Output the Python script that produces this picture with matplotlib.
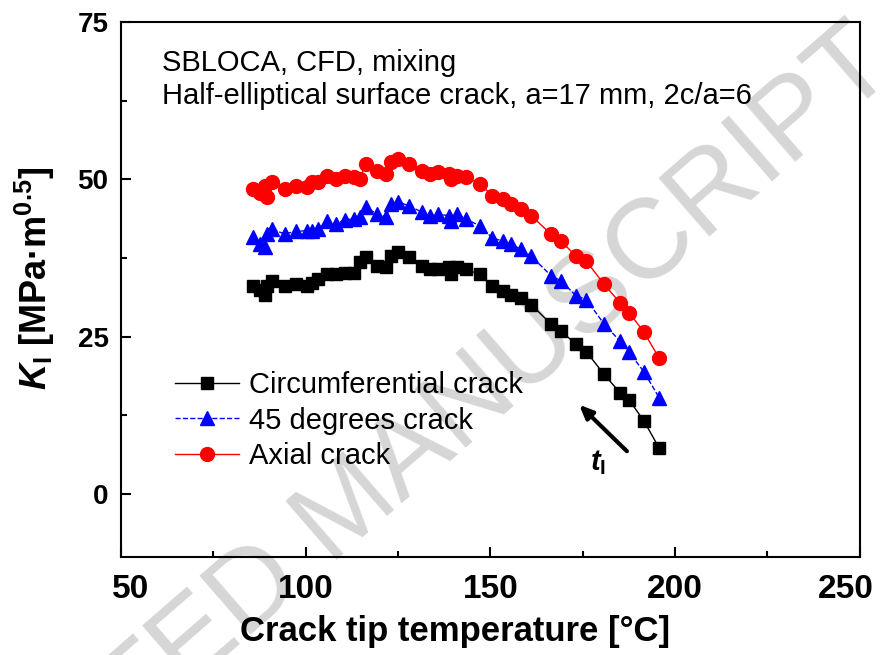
import numpy as np
import matplotlib
matplotlib.use('Agg')
import matplotlib.pyplot as plt
import matplotlib.transforms as mtransforms

# crack tip temperature [C]
temp = [85.8, 87.6, 89.0, 89.4, 90.8, 94.4, 97.3, 100.3, 101.6, 103.4,
        105.8, 108.2, 110.6, 113.2, 114.7, 116.3, 119.2, 121.8, 123.0, 125.0,
        128.0, 131.4, 133.6, 135.9, 138.8, 139.2, 141.0, 143.4, 147.2, 150.5,
        153.3, 155.7, 158.2, 161.1, 166.4, 169.1, 173.2, 176.0, 180.8, 185.1,
        187.6, 191.6, 195.7]
k_circ = [33.1, 32.5, 31.7, 33.0, 33.9, 33.1, 33.3, 33.1, 33.6, 34.1,
          34.9, 34.9, 35.2, 35.2, 36.8, 37.6, 36.3, 36.0, 37.8, 38.4,
          37.6, 36.3, 35.7, 35.7, 36.0, 34.9, 36.0, 35.7, 34.9, 33.1,
          32.3, 31.7, 31.2, 30.1, 27.0, 25.9, 23.8, 22.6, 19.0, 16.1,
          14.9, 11.6, 7.3]
k_45 = [40.8, 39.7, 39.2, 41.3, 42.1, 41.3, 41.8, 41.8, 41.8, 42.1,
        43.4, 42.9, 43.6, 43.7, 44.0, 45.6, 44.5, 44.0, 46.1, 46.4,
        45.8, 44.8, 44.2, 44.5, 44.2, 43.4, 44.5, 43.7, 42.6, 40.7,
        40.2, 39.7, 38.9, 37.8, 34.7, 33.9, 31.5, 30.9, 27.0, 24.3,
        22.5, 19.4, 15.3]
k_axial = [48.5, 47.9, 49.0, 47.2, 49.6, 48.5, 49.0, 48.8, 49.6, 49.6,
           50.6, 50.1, 50.5, 50.3, 50.1, 52.5, 51.4, 50.9, 52.7, 53.3,
           52.5, 51.4, 50.9, 51.1, 50.9, 50.1, 50.6, 50.4, 49.3, 47.4,
           46.9, 46.1, 45.3, 44.2, 41.3, 40.2, 37.8, 37.0, 33.3, 30.4,
           28.8, 25.7, 21.6]

plt.rcParams['font.family'] = ['Liberation Sans', 'DejaVu Sans']
plt.rcParams['mathtext.fontset'] = 'custom'
plt.rcParams['mathtext.rm'] = 'Liberation Sans:bold'
plt.rcParams['mathtext.bf'] = 'Liberation Sans:bold'
plt.rcParams['mathtext.it'] = 'Liberation Sans:italic:bold'

fig = plt.figure(figsize=(8.9, 6.55), dpi=100)
ax = fig.add_axes([0.136, 0.1496, 0.830, 0.8168])
ax.patch.set_alpha(0)

# watermark
fig.text(0.392, 0.22, 'ACCEPTED MANUSCRIPT', fontsize=82, color='#d6d6d6',
         rotation=41, ha='center', va='center', rotation_mode='anchor', zorder=-5)

ax.plot(temp, k_circ, '-', color='black', lw=1, marker='s', ms=9, label='Circumferential crack')
ax.plot(temp, k_45, '--', color='blue', lw=1, marker='^', ms=10, label='45 degrees crack')
ax.plot(temp, k_axial, '-', color='red', lw=1, marker='o', ms=10, label='Axial crack')

ax.set_xlim(50, 250)
ax.set_ylim(-10, 75)
ax.set_xticks([50, 100, 150, 200, 250])
ax.set_xticks([75, 125, 175, 225], minor=True)
ax.set_yticks([0, 25, 50, 75])
ax.set_yticks([12.5, 37.5, 62.5], minor=True)
ax.tick_params(which='both', direction='in', width=1.5)
ax.tick_params(which='major', length=7)
ax.tick_params(which='minor', length=4)
ax.tick_params(axis='x', labelsize=24, pad=12)
ax.tick_params(axis='y', labelsize=20, pad=9)
for lab in ax.get_xticklabels() + ax.get_yticklabels():
    lab.set_fontweight('bold')
for s in ax.spines.values():
    s.set_linewidth(1.5)

# end labels of the x axis are pulled inwards
xt = ax.xaxis.get_major_ticks()
xt[0].label1.set_transform(xt[0].label1.get_transform() +
                           mtransforms.ScaledTranslation(0.10, 0, fig.dpi_scale_trans))
xt[-1].label1.set_transform(xt[-1].label1.get_transform() +
                            mtransforms.ScaledTranslation(-0.14, 0, fig.dpi_scale_trans))

ax.set_xlabel('Crack tip temperature [°C]', fontsize=25, fontweight='bold')
ax.xaxis.set_label_coords(0.452, -0.108)
ax.set_ylabel(r'$K_\mathrm{I}$ [MPa·m$^{0.5}$]', fontsize=26, fontweight='bold')
ax.yaxis.set_label_coords(-0.087, 0.52)

ax.text(0.056, 0.923, 'SBLOCA, CFD, mixing', transform=ax.transAxes,
        fontsize=21, va='center', ha='left')
ax.text(0.056, 0.861, 'Half-elliptical surface crack, a=17 mm, 2c/a=6', transform=ax.transAxes,
        fontsize=21, va='center', ha='left')

ax.legend(loc='upper left', bbox_to_anchor=(0.073, 0.347), frameon=False, fontsize=21,
          handlelength=2.2, handletextpad=0.35, labelspacing=0.25, borderpad=0,
          borderaxespad=0)

ax.annotate('', xy=(173.5, 14.5), xytext=(187.5, 6.5),
            arrowprops=dict(arrowstyle='-|>,head_length=0.8,head_width=0.35', color='black', lw=3))
ax.text(179.1, 5.0, r'$t_\mathrm{I}$', fontsize=21, ha='center', va='center')

fig.savefig('out.png', dpi=100)
